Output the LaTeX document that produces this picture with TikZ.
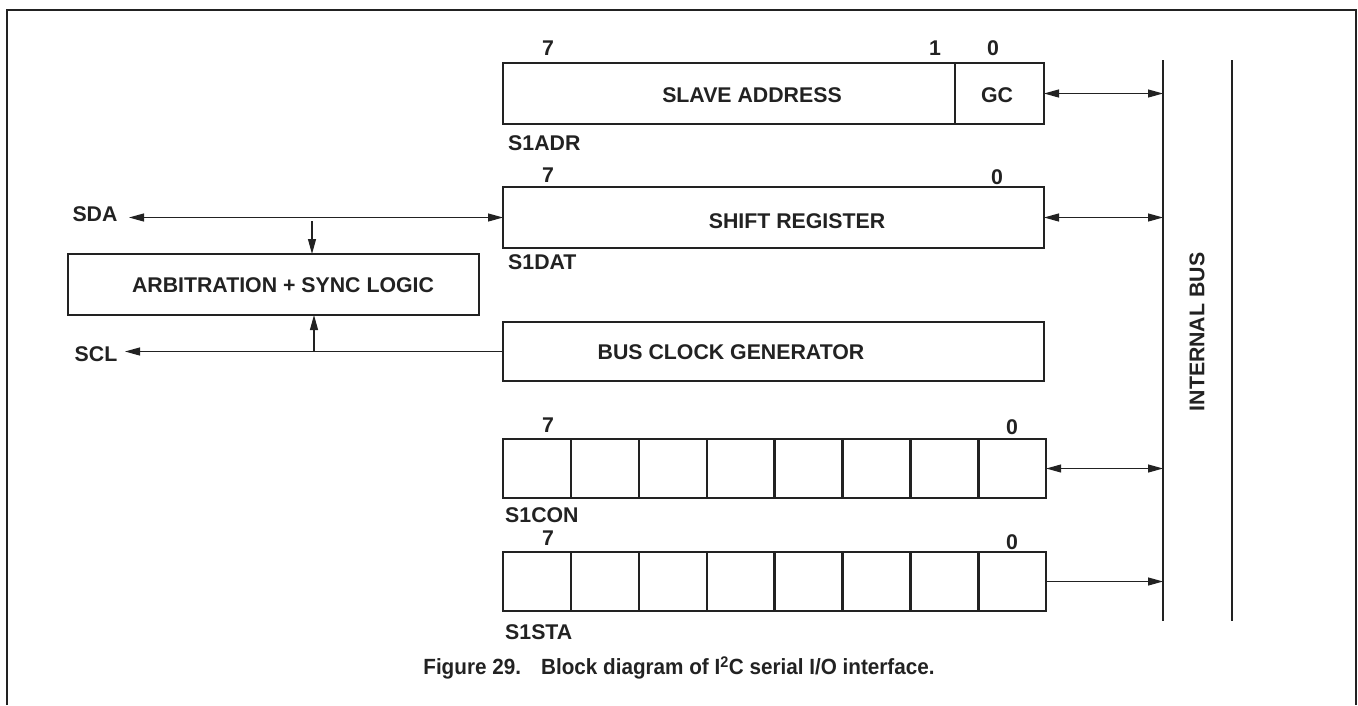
\documentclass[tikz,border=0pt]{standalone}
\usepackage{fontspec}
\setmainfont{Liberation Sans}
\usetikzlibrary{arrows.meta}
\definecolor{ink}{HTML}{222222}
\begin{document}
\begin{tikzpicture}[x=1pt,y=-1pt,
  box/.style={draw=ink, line width=2.4pt, inner sep=0pt, outer sep=0pt},
  lbl/.style={font=\fontsize{21.3}{25}\selectfont\bfseries, inner sep=0pt, text=ink},
  conn/.style={line width=1.1pt, draw=ink},
  tipend/.style={-{Triangle[length=15pt,width=8pt]}},
  tipboth/.style={{Triangle[length=15pt,width=8pt]}-{Triangle[length=15pt,width=8pt]}},
  busline/.style={line width=1.6pt, draw=ink}
]
\useasboundingbox (0,0) rectangle (1358,705);
% frame
\draw[line width=2.2pt, ink] (7,705) -- (7,10) -- (1356,10) -- (1356,705);

% internal bus
\coordinate (busT) at (1163,60);
\coordinate (busB) at (1163,621);
\coordinate (bus2T) at (1232,60);
\coordinate (bus2B) at (1232,621);
\draw[busline] (busT) -- (busB);
\draw[busline] (bus2T) -- (bus2B);
\node[lbl, rotate=90] (tbus) at (1197,332) {INTERNAL BUS};

% S1ADR
\node[box, minimum width=452pt, minimum height=61pt] (adr) at (729,93.5) {};
\node[box, minimum width=89pt, minimum height=61pt] (gc) at (999.5,93.5) {};
\node[lbl] (tslave) at (752,95) {SLAVE ADDRESS};
\node[lbl] (tgc) at (997,95) {GC};
\node[lbl] (a7) at (548,48) {7};
\node[lbl] (a1) at (935,48) {1};
\node[lbl] (a0) at (993,48) {0};
\node[lbl, anchor=west] (ladr) at (508,143) {S1ADR};

% S1DAT
\node[box, minimum width=541pt, minimum height=61pt] (dat) at (773.5,217.5) {};
\node[lbl] (tshift) at (797,221) {SHIFT REGISTER};
\node[lbl] (d7) at (548,175) {7};
\node[lbl] (d0) at (997,177) {0};
\node[lbl, anchor=west] (ldat) at (508,262) {S1DAT};

% arbitration
\node[box, minimum width=411pt, minimum height=61pt] (arb) at (273.5,284.5) {};
\node[lbl] (tarb) at (283,285) {ARBITRATION + SYNC LOGIC};

% bus clock generator
\node[box, minimum width=541pt, minimum height=59pt] (clk) at (773.5,351.5) {};
\node[lbl] (tclk) at (731,352) {BUS CLOCK GENERATOR};

% SDA / SCL
\node[lbl] (sda) at (95,214) {SDA};
\node[lbl] (scl) at (96,354) {SCL};
\coordinate (sdaend) at (129,217.5);
\coordinate (sclend) at (125,351.5);
\draw[conn, tipboth] (sdaend) -- (dat.west);
\coordinate (sdatap) at (312,221);
\draw[conn, tipend] (sdatap) -- (sdatap |- arb.north);
\draw[conn, tipend] (clk.west) -- (sclend);
\coordinate (scltap) at (314,351.5);
\draw[conn, tipend] (scltap) -- (scltap |- arb.south);

% S1CON
\foreach \i in {0,...,7} {
  \node[box, minimum width=67.9pt, minimum height=59pt] (con\i) at ({503+67.9*\i+33.95},468.5) {};
}
\node[lbl] (c7) at (548,425) {7};
\node[lbl] (c0) at (1012,427) {0};
\node[lbl, anchor=west] (lcon) at (505,515) {S1CON};

% S1STA
\foreach \i in {0,...,7} {
  \node[box, minimum width=67.9pt, minimum height=59pt] (sta\i) at ({503+67.9*\i+33.95},581.5) {};
}
\node[lbl] (s7) at (548,538) {7};
\node[lbl] (s0) at (1012,542) {0};
\node[lbl, anchor=west] (lsta) at (505,632) {S1STA};

% connections to internal bus
\draw[conn, tipboth] (gc.east) -- (gc.east -| busT);
\draw[conn, tipboth] (dat.east) -- (dat.east -| busT);
\draw[conn, tipboth] (con7.east) -- (con7.east -| busT);
\draw[conn, tipend] (sta7.east) -- (sta7.east -| busT);

% caption
\node[lbl, font=\fontsize{22}{26}\selectfont\bfseries, xscale=0.94] (cap) at (679,668) {Figure 29.\hspace{0.6em} Block diagram of I\textsuperscript{2}C serial I/O interface.};
\end{tikzpicture}
\end{document}
